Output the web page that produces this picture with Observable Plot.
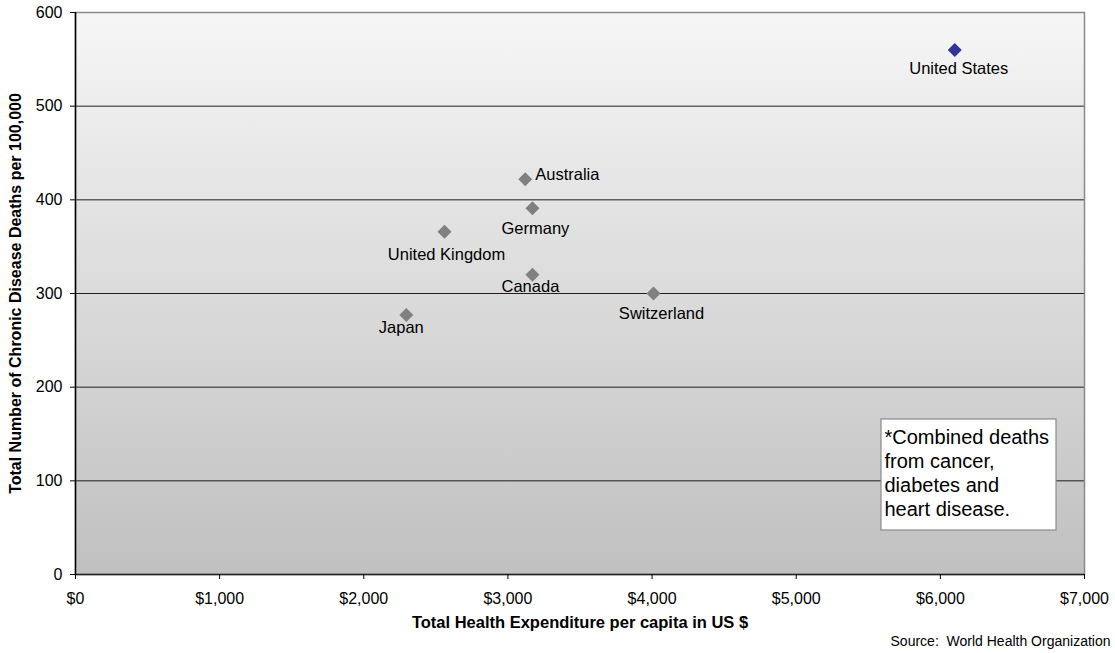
<!DOCTYPE html>
<html>
<head>
<meta charset="utf-8">
<script src="https://cdn.jsdelivr.net/npm/d3@7"></script>
<script src="https://cdn.jsdelivr.net/npm/@observablehq/plot@0.6"></script>
<style>
  html, body { margin: 0; padding: 0; background: #fff; }
  #chart svg { display: block; }
</style>
</head>
<body>
<div id="chart"></div>
<script>
// Health spending vs. chronic disease deaths, by country
const countries = ["United States", "Australia", "Germany", "United Kingdom", "Canada", "Switzerland", "Japan"];
const spending  = [6100, 3120, 3170, 2560, 3170, 4010, 2295];   // US $ per capita
const deaths    = [560, 422, 391, 366, 320, 300, 277];          // per 100,000
const highlighted = "United States";

const xTicks = [0, 1000, 2000, 3000, 4000, 5000, 6000, 7000];
const yTicks = [0, 100, 200, 300, 400, 500, 600];

const noteLines = ["*Combined deaths", "from cancer,", "diabetes and", "heart disease."];
const xTitle = "Total Health Expenditure per capita in US $";
const yTitle = "Total Number of Chronic Disease Deaths per 100,000";
const sourceText = "Source:  World Health Organization";

// where each country's label sits relative to its marker
const labelPlacement = {
  "United States":  {dx: 4,  dy: 19, anchor: "middle"},
  "Australia":      {dx: 10, dy: -5, anchor: "start"},
  "Germany":        {dx: 3,  dy: 20, anchor: "middle"},
  "United Kingdom": {dx: 2,  dy: 23, anchor: "middle"},
  "Canada":         {dx: -2, dy: 12, anchor: "middle"},
  "Switzerland":    {dx: 8,  dy: 20, anchor: "middle"},
  "Japan":          {dx: -5, dy: 13, anchor: "middle"}
};

const data = countries.map((country, i) => ({country, spending: spending[i], deaths: deaths[i]}));

// shaded plot area (light at the top, darker at the bottom)
function plotBackground(index, scales, values, dims) {
  const {width, height, marginTop, marginRight, marginBottom, marginLeft} = dims;
  const g = d3.create("svg:g");
  const grad = g.append("defs").append("linearGradient")
    .attr("id", "plot-bg").attr("x1", 0).attr("y1", 0).attr("x2", 0).attr("y2", 1);
  grad.append("stop").attr("offset", "0%").attr("stop-color", "#f6f6f6");
  grad.append("stop").attr("offset", "100%").attr("stop-color", "#c0c0c0");
  g.append("rect")
    .attr("x", marginLeft).attr("y", marginTop)
    .attr("width", width - marginLeft - marginRight)
    .attr("height", height - marginTop - marginBottom)
    .attr("fill", "url(#plot-bg)");
  return g.node();
}

// white box behind the footnote, tucked into the lower-right corner
function noteBox(index, scales, values, dims) {
  const {width, height, marginRight, marginBottom} = dims;
  const right = width - marginRight, bottom = height - marginBottom;
  return d3.create("svg:rect")
    .attr("x", right - 203).attr("y", bottom - 155)
    .attr("width", 175).attr("height", 111)
    .attr("fill", "#fff").attr("stroke", "#8a8a8a").attr("stroke-width", 1.2)
    .node();
}

const labelMarks = countries.map(c => {
  const p = labelPlacement[c];
  return Plot.text(data.filter(d => d.country === c), {
    x: "spending", y: "deaths", text: "country",
    dx: p.dx, dy: p.dy, textAnchor: p.anchor,
    fontSize: 16.5, fill: "#000"
  });
});

const chart = Plot.plot({
  width: 1115,
  height: 653,
  marginTop: 12,
  marginRight: 31,
  marginBottom: 79,
  marginLeft: 75,
  style: {fontFamily: "'Liberation Sans', Arial, sans-serif", fontSize: "16px", color: "#000", background: "#fff"},
  x: {domain: [0, 7000]},
  y: {domain: [0, 600]},
  marks: [
    plotBackground,
    Plot.ruleY(yTicks.filter(t => t > 0 && t < 600), {stroke: "#1e1e1e", strokeWidth: 1}),
    Plot.frame({stroke: "#8a8a8a", strokeWidth: 1.5}),
    Plot.ruleX([0], {stroke: "#000", strokeWidth: 1.5}),
    Plot.ruleY([0], {stroke: "#222", strokeWidth: 1.5}),
    Plot.axisX({
      ticks: xTicks, tickSize: 5, tickPadding: 13,
      tickFormat: d => "$" + d3.format(",")(d),
      label: null, fontSize: 16
    }),
    Plot.axisY({ticks: yTicks, tickSize: 5, tickPadding: 8, label: null, fontSize: 16}),
    Plot.dot(data.filter(d => d.country !== highlighted), {
      x: "spending", y: "deaths", symbol: "diamond2", r: 6.3, fill: "#808080", stroke: null
    }),
    Plot.dot(data.filter(d => d.country === highlighted), {
      x: "spending", y: "deaths", symbol: "diamond2", r: 6.3, fill: "#333399", stroke: null
    }),
    ...labelMarks,
    noteBox,
    Plot.text([noteLines.join("\n")], {
      frameAnchor: "bottom-right", dx: -200, dy: -148,
      textAnchor: "start", lineAnchor: "top", lineHeight: 1.2,
      fontSize: 20, fill: "#000"
    }),
    Plot.text([xTitle], {
      frameAnchor: "bottom", dy: 53, fontSize: 16.5, fontWeight: "bold", fill: "#000"
    }),
    Plot.text([yTitle], {
      frameAnchor: "left", dx: -59.5, rotate: -90, textAnchor: "middle",
      fontSize: 16, fontWeight: "bold", fill: "#000"
    }),
    Plot.text([sourceText], {
      frameAnchor: "bottom-right", dx: 26, dy: 71, textAnchor: "end", fontSize: 14, fill: "#000"
    })
  ]
});

document.getElementById("chart").append(chart);
</script>
</body>
</html>
